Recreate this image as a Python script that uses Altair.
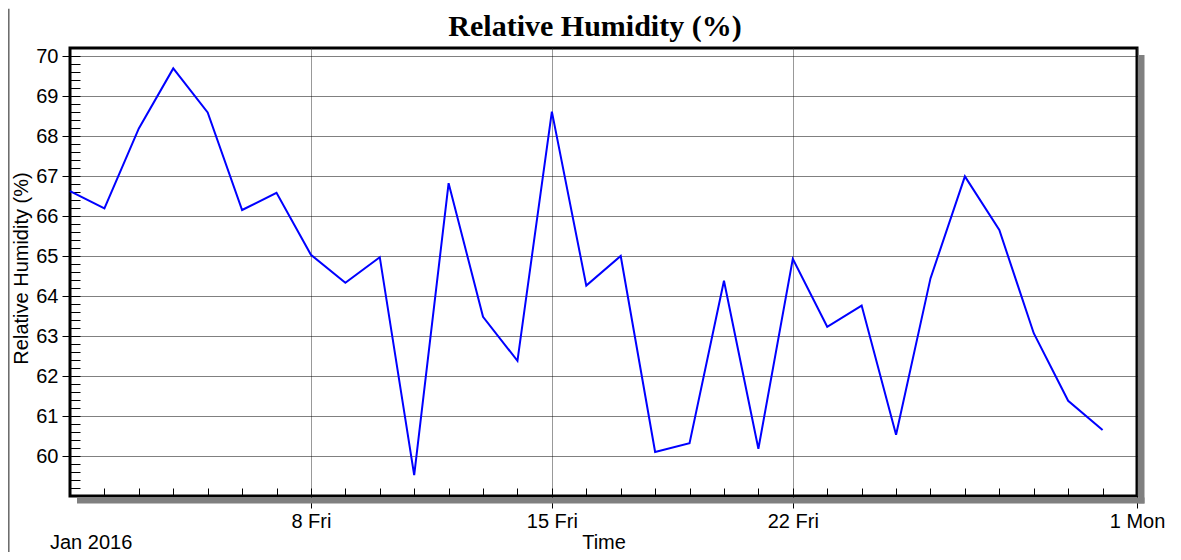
import altair as alt
import pandas as pd

# ---- data ----
dates = pd.date_range("2016-01-01", periods=31, freq="D")
rh = [66.62, 66.19, 68.19, 69.69, 68.59, 66.15, 66.58, 65.03, 64.33, 64.97,
      59.52, 66.82, 63.48, 62.38, 68.61, 64.26, 65.00, 60.10, 60.32, 64.38,
      60.18, 64.93, 63.23, 63.76, 60.53, 64.44, 66.99, 65.65, 63.07, 61.38,
      60.65]

title_text = "Relative Humidity (%)"
y_title = "Relative Humidity (%)"
x_title = "Time"
period_label = "Jan 2016"

y_major = list(range(60, 71))
y_minor = [round(59 + 0.2 * i, 1) for i in range(1, 57)]
x_major = [alt.DateTime(year=2016, month=1, date=d) for d in (8, 15, 22)] + [
    alt.DateTime(year=2016, month=2, date=1)]
x_minor = [alt.DateTime(year=2016, month=1, date=d) for d in range(2, 32)]

df = pd.DataFrame({"date": dates, "rh": rh})
one = pd.DataFrame({"t": [title_text], "p": [period_label]})

W, H = 1067, 448

x_scale = alt.Scale(domain=[alt.DateTime(year=2016, month=1, date=1),
                            alt.DateTime(year=2016, month=2, date=1)], nice=False)
y_scale = alt.Scale(domain=[59, 70.2], nice=False, zero=False)

FONT = "Liberation Sans"

line = alt.Chart(df).mark_line(color="#0000ff", strokeWidth=2).encode(
    x=alt.X("date:T", scale=x_scale, axis=alt.Axis(
        orient="bottom", values=x_major, labelExpr="timeFormat(datum.value, '%-d %a')",
        tickSize=12, tickColor="#000", tickWidth=1, domain=False,
        labelFont=FONT, labelFontSize=20, labelColor="#000", labelBaseline="alphabetic",
        labelPadding=19, labelFlush=False, labelOverlap=False, labelAlign="center",
        grid=True, gridColor="#333", gridDash=[1, 1], gridWidth=1, gridOpacity=1,
        title=x_title, titleFont=FONT, titleFontSize=20, titleFontWeight="normal",
        titleColor="#000", titleY=52.5, titleBaseline="alphabetic")),
    y=alt.Y("rh:Q", scale=y_scale, axis=alt.Axis(
        orient="left", values=y_major, tickSize=8, tickColor="#000", tickWidth=1,
        domain=False, labelFont=FONT, labelFontSize=20, labelColor="#000",
        labelPadding=4, grid=True, gridColor="#000", gridDash=[1, 1], gridWidth=1,
        gridOpacity=1, title=y_title, titleFont=FONT, titleFontSize=20,
        titleFontWeight="normal", titleColor="#000", titleAngle=270,
        titleX=-43, titleY=H / 2 - 4, titleAlign="center", titleBaseline="alphabetic")),
)

minor = alt.Chart(df).mark_line(opacity=0).encode(
    x=alt.X("date:T", scale=x_scale, axis=alt.Axis(
        orient="top", offset=-H, values=x_minor, tickSize=8, tickColor="#000",
        tickWidth=1, domain=False, labels=False, grid=False, title=None)),
    y=alt.Y("rh:Q", scale=y_scale, axis=alt.Axis(
        orient="right", offset=-W, values=y_minor, tickSize=10, tickColor="#000",
        tickWidth=1, domain=False, labels=False, grid=False, title=None)),
)

shadow_r = alt.Chart(one).mark_rect(color="#808080").encode(
    x=alt.value(W + 1.5), x2=alt.value(W + 7.5), y=alt.value(7), y2=alt.value(H + 7.5))
shadow_b = alt.Chart(one).mark_rect(color="#808080").encode(
    x=alt.value(7), x2=alt.value(W + 7.5), y=alt.value(H + 1.5), y2=alt.value(H + 7.5))

frame_l = alt.Chart(one).mark_rule(color="#666", strokeWidth=1.5).encode(
    x=alt.value(-61.2), y=alt.value(-39.2), y2=alt.value(H + 60))

title = alt.Chart(one).mark_text(
    font="Liberation Serif", fontSize=30, fontWeight="bold", color="#000",
    align="center", baseline="alphabetic").encode(
    text="t:N", x=alt.value(525), y=alt.value(-12.5))

period = alt.Chart(one).mark_text(
    font=FONT, fontSize=20, color="#000", align="left", baseline="alphabetic").encode(
    text="p:N", x=alt.value(-20), y=alt.value(500.5))

chart = alt.layer(
    shadow_r, shadow_b, frame_l, line, minor, title, period
).resolve_axis(x="independent", y="independent").resolve_scale(
    x="shared", y="shared"
).properties(
    width=W, height=H,
    autosize=alt.AutoSizeParams(type="none"),
    padding={"left": 62, "top": 40, "right": 30, "bottom": 56},
    background="white",
).configure_view(stroke="#000", strokeWidth=3)

chart.save("out.html", embed_options={"renderer": "svg", "actions": False})
